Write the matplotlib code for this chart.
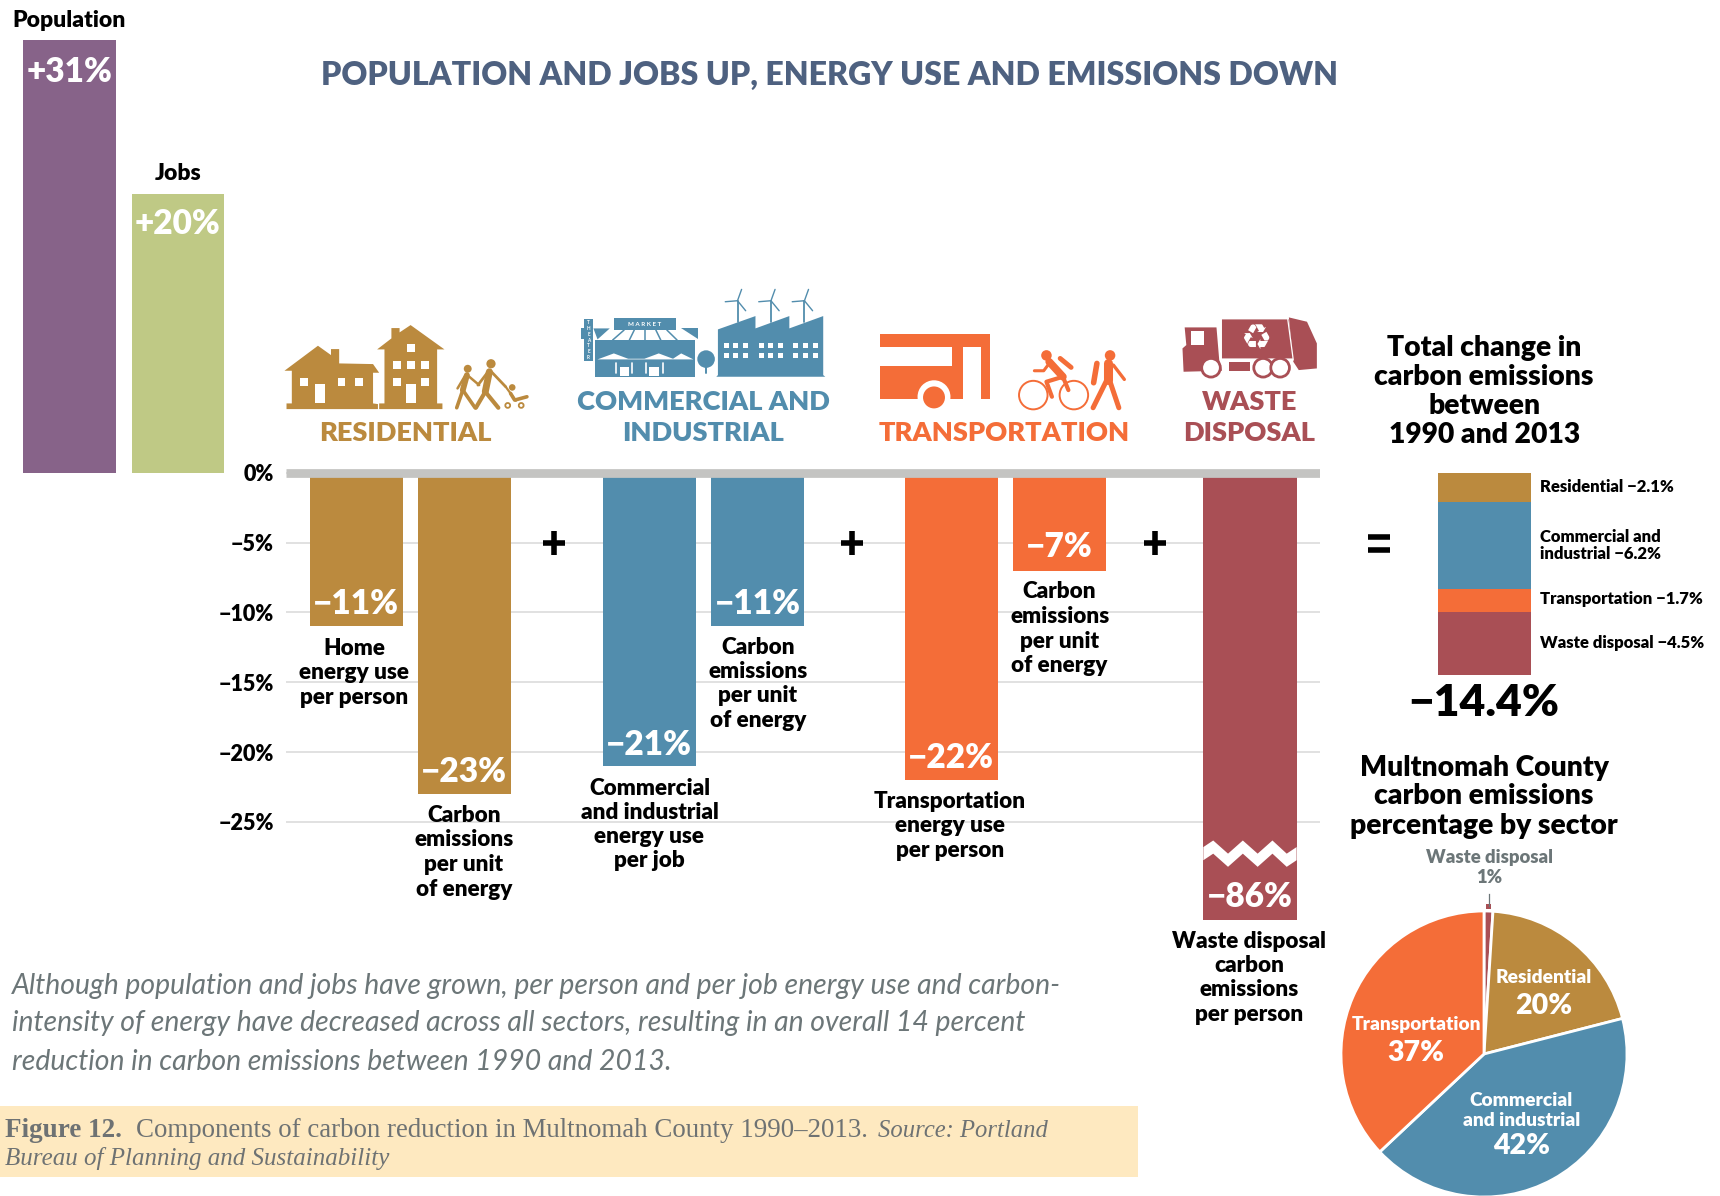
import matplotlib
matplotlib.use("Agg")
import matplotlib.pyplot as plt
from matplotlib.patches import Polygon, Rectangle, Circle

# ---------- data ----------
growth_labels = ["Population", "Jobs"]
growth_values = [31, 20]
growth_texts = ["+31%", "+20%"]

component_values = [-11, -23, -21, -11, -22, -7, -86]
component_texts = ["−11%", "−23%", "−21%", "−11%", "−22%", "−7%", "−86%"]
component_sectors = ["res", "res", "com", "com", "tra", "tra", "was"]
broken_axis_floor = -32

total_sectors = ["res", "com", "tra", "was"]
total_values = [-2.1, -6.2, -1.7, -4.5]
total_text = "−14.4%"

pie_values = [1, 20, 42, 37]
pie_sectors = ["was", "res", "com", "tra"]

y_ticks = [0, -5, -10, -15, -20, -25]
y_tick_labels = ["0%", "−5%", "−10%", "−15%", "−20%", "−25%"]

# ---------- style ----------
COL = {"res": "#bb8a3e", "com": "#528dad", "tra": "#f46d38", "was": "#a94f55"}
F = "Lato"
GR = "#6c7678"
W, H = 1568.0, 1090.0          # working coordinates
PX = 12.72                     # working px per percent
Y0 = 431.0
BW = 800

fig = plt.figure(figsize=(17.2, 11.96), dpi=100, facecolor="white")

# ---------- bar axes ----------
ax = fig.add_axes([261 / W, 0, (1203 - 261) / W, 1])
ax.set_xlim(261, 1203)
ax.set_ylim((Y0 - H) / PX, Y0 / PX)
for s in ax.spines.values():
    s.set_visible(False)
ax.set_xticks([])
ax.set_yticks(y_ticks)
ax.set_yticklabels(y_tick_labels, fontfamily=F, fontweight=BW, fontsize=15.5, color="black")
ax.tick_params(axis="y", length=0, pad=9)
ax.grid(axis="y", color="#d8d8d8", lw=1.1)
ax.set_axisbelow(True)
ax.patch.set_alpha(0)

for x, v, c in zip([21, 120], growth_values, ["#876389", "#bfc985"]):
    ax.bar(x, v, width=84.5, align="edge", color=c, clip_on=False, zorder=2)

comp_x = [282.5, 381, 549.5, 648, 825, 923.5, 1097]
for x, v, s in zip(comp_x, component_values, component_sectors):
    ax.bar(x, max(v, broken_axis_floor), width=85, align="edge", color=COL[s], zorder=2)
ax.axhline(0, color="#c4c4c2", lw=6.3, zorder=3, solid_capstyle="butt")

cum = 0
for v, s in zip(total_values, total_sectors):
    ax.bar(1311, v, width=85, bottom=cum, align="edge", color=COL[s], clip_on=False, zorder=2)
    cum += v

# ---------- overlay in working coordinates ----------
ov = fig.add_axes([0, 0, 1, 1], zorder=5)
ov.set_xlim(0, W)
ov.set_ylim(H, 0)
ov.axis("off")
ov.patch.set_alpha(0)


def T(x, y, s, size, color="black", weight=BW, ha="center", family=F, style="normal", **kw):
    base = y + 0.35 * size / 0.72 / 1.097
    return ov.text(x, base, s, fontsize=size, color=color, fontweight=weight, ha=ha, va="baseline",
                   family=family, style=style, **kw)


def L(x, ys, lines, size, **kw):
    for y, s in zip(ys, lines):
        T(x, y, s, size, **kw)


T(756, 67, "POPULATION AND JOBS UP, ENERGY USE AND EMISSIONS DOWN", 23.1, color="#4e6180")
T(63, 17, growth_labels[0], 16.5)
T(162, 157, growth_labels[1], 16.5)
T(63, 64, growth_texts[0], 24, color="white")
T(162, 203, growth_texts[1], 24, color="white")

HS = 19.6
T(370, 393, "RESIDENTIAL", HS, color=COL["res"])
L(641, [365, 393], ["COMMERCIAL AND", "INDUSTRIAL"], HS, color=COL["com"])
T(915, 393, "TRANSPORTATION", HS, color=COL["tra"])
L(1139, [365, 393], ["WASTE", "DISPOSAL"], HS, color=COL["was"])

val_pos = [(324, 549), (423, 702), (592, 677), (691, 549), (867, 689), (966, 497), (1139, 816)]
for (x, y), s in zip(val_pos, component_texts):
    T(x, y, s, 24, color="white")

LS = 16.2
L(323, [590, 612, 634], ["Home", "energy use", "per person"], LS)
cu = ["Carbon", "emissions", "per unit", "of energy"]
L(423, [742, 764, 787, 809], cu, LS)
L(592, [717, 739, 761, 783], ["Commercial", "and industrial", "energy use", "per job"], LS)
L(691, [589, 611, 633, 655], cu, LS)
L(866, [729, 751, 774], ["Transportation", "energy use", "per person"], LS)
L(966, [538, 561, 583, 605], cu, LS)
L(1139, [857, 879, 901, 923], ["Waste disposal", "carbon", "emissions", "per person"], LS)

for x in [505, 777, 1053]:
    ov.plot([x - 10, x + 10], [495, 495], color="black", lw=4, solid_capstyle="butt")
    ov.plot([x, x], [484, 506], color="black", lw=4, solid_capstyle="butt")
for y in [489, 501]:
    ov.plot([1247, 1267], [y, y], color="black", lw=4, solid_capstyle="butt")

L(1353, [315, 342, 368, 395], ["Total change in", "carbon emissions", "between", "1990 and 2013"], 20.3)
LG = 12
T(1404, 443, "Residential −2.1%", LG, ha="left")
T(1404, 489, "Commercial and", LG, ha="left")
T(1404, 504, "industrial −6.2%", LG, ha="left")
T(1404, 545, "Transportation −1.7%", LG, ha="left")
T(1404, 585, "Waste disposal −4.5%", LG, ha="left")
T(1353, 638, total_text, 32)
L(1353, [698, 724, 751], ["Multnomah County", "carbon emissions", "percentage by sector"], 20.3)
L(1358, [781, 799], ["Waste disposal", "1%"], 13.3, color=GR)

# zigzag break on the waste bar
zx = [1097, 1106, 1119.5, 1133, 1146.5, 1160, 1173, 1182]
zy = [778, 772, 784, 772, 784, 772, 784, 778]
ov.add_patch(Polygon([(a, b - 6) for a, b in zip(zx, zy)] + [(a, b + 6) for a, b in zip(zx[::-1], zy[::-1])],
                     fc="white", ec="none"))

# paragraph
PS = 20.4
for y, s in zip([897, 931, 966], [
    "Although population and jobs have grown, per person and per job energy use and carbon-",
    "intensity of energy have decreased across all sectors, resulting in an overall 14 percent",
    "reduction in carbon emissions between 1990 and 2013.",
]):
    T(11, y, s, PS, color=GR, weight="normal", ha="left", style="italic")

# caption band
ov.add_patch(Rectangle((0, 1008), 1037, 65, fc="#fee9c0", ec="none"))
SF = "Liberation Serif"
CC = "#6e7273"
T(5, 1028, "Figure 12.", 19.5, color=CC, ha="left", family=SF, )
T(124, 1028, "Components of carbon reduction in Multnomah County 1990–2013.", 19.4, color=CC, weight="normal", ha="left", family=SF)
T(800, 1028, "Source: Portland", 17.7, color=CC, weight="normal", ha="left", family=SF, style="italic")
T(5, 1054, "Bureau of Planning and Sustainability", 18, color=CC, weight="normal", ha="left", family=SF, style="italic")


# ---------- icons ----------
def z1(x, y):
    return ((220 + x / 2.45) / 1.097, (280 + y / 3) / 1.097)


def z2(x, y):
    return ((860 + x / 1.823) / 1.097, (280 + y / 3) / 1.097)


def poly(z, pts, c, zo=6):
    ov.add_patch(Polygon([z(*p) for p in pts], fc=c, ec="none", zorder=zo))


def rect(z, x0, y0, x1, y1, c, zo=6):
    poly(z, [(x0, y0), (x1, y0), (x1, y1), (x0, y1)], c, zo)


def line(z, pts, c, lw, zo=6):
    xy = [z(*p) for p in pts]
    ov.plot([p[0] for p in xy], [p[1] for p in xy], color=c, lw=lw, zorder=zo,
            solid_capstyle="round", solid_joinstyle="round")


def circ(z, x, y, r, fc, ec="none", lw=0, zo=6):
    ov.add_patch(Circle(z(x, y), r, fc=fc, ec=ec, lw=lw, zorder=zo))


c = COL["res"]
poly(z1, [(158, 272), (240, 197), (272, 225), (272, 207), (292, 207), (292, 250), (375, 252), (390, 278),
          (375, 278), (375, 370), (387, 372), (387, 387), (163, 387), (163, 370), (176, 370), (176, 272)], c)
for b in [(196, 295, 216, 318), (233, 312, 257, 368), (288, 295, 307, 318), (330, 295, 350, 318)]:
    rect(z1, *b, "white", 7)
poly(z1, [(385, 208), (420, 175), (420, 144), (440, 144), (440, 157), (467, 135), (550, 208), (532, 208),
          (532, 370), (545, 370), (545, 387), (390, 387), (390, 370), (403, 370), (403, 208)], c)
for b in [(458, 192, 478, 215), (424, 243, 443, 267), (458, 243, 478, 267), (492, 243, 512, 267),
          (424, 295, 443, 318), (492, 295, 512, 318), (456, 313, 480, 368)]:
    rect(z1, *b, "white", 7)
# family
circ(z1, 607, 266, 3.6, c)
line(z1, [(605, 285), (595, 330)], c, 4.2)
line(z1, [(595, 330), (580, 383)], c, 2.6)
line(z1, [(595, 330), (625, 383)], c, 2.6)
line(z1, [(606, 285), (635, 315)], c, 1.8)
line(z1, [(600, 288), (582, 325)], c, 1.8)
circ(z1, 664, 251, 4.2, c)
line(z1, [(660, 275), (650, 335)], c, 5)
line(z1, [(650, 335), (627, 383)], c, 3)
line(z1, [(650, 335), (682, 383)], c, 3)
line(z1, [(665, 275), (700, 320)], c, 2)
line(z1, [(655, 278), (632, 315)], c, 2)
circ(z1, 716, 322, 3, c)
line(z1, [(700, 320), (725, 362)], c, 1.6)
line(z1, [(712, 340), (722, 360), (752, 350)], c, 2.6)
circ(z1, 705, 376, 2.2, "white", c, 1.3)
circ(z1, 738, 376, 2.2, "white", c, 1.3)

c = COL["com"]
rect(z1, 966, 115, 1117, 150, c)
ov.text(*z1(1041, 133), "M A R K E T", fontsize=4.5, color="white", ha="center", va="center", family=F,
        fontweight="bold", zorder=7)
poly(z1, [(915, 145), (955, 145), (925, 178)], c)
poly(z1, [(1130, 145), (1172, 145), (1172, 178)], c)
for a, b in [(990, 962), (1015, 1003), (1041, 1041), (1068, 1080), (1095, 1120)]:
    line(z1, [(a, 150), (b, 180)], c, 1.1)
rect(z1, 920, 180, 1163, 290, c)
poly(z1, [(925, 238), (965, 220), (1000, 236), (1040, 236), (1075, 220), (1110, 236), (1130, 220), (1160, 238)], "white", 7)
for x in [970, 1010, 1045, 1085]:
    line(z1, [(x, 250), (x, 280)], "white", 1.2, 7)
rect(z1, 980, 262, 1003, 288, "white", 7)
rect(z1, 1052, 262, 1075, 288, "white", 7)
rect(z1, 893, 118, 913, 243, c)
rect(z1, 885, 145, 893, 178, c)
ov.text(*z1(903, 180), "T\nH\nE\nA\nT\nE\nR", fontsize=3.3, color="white", ha="center", va="center", family=F,
        fontweight="bold", linespacing=1.2, zorder=7)
circ(z1, 1191, 237, 8, c)
line(z1, [(1191, 250), (1191, 280)], c, 1.4)
poly(z1, [(1220, 148), (1312, 108), (1312, 145), (1395, 108), (1395, 145), (1478, 108), (1478, 285), (1483, 290),
          (1216, 290), (1220, 285)], c)
for y0 in [190, 220]:
    for x0 in [1235, 1258, 1282, 1320, 1343, 1367, 1405, 1428, 1452]:
        rect(z1, x0, y0, x0 + 12, y0 + 13, "white", 7)
for dx in [0, 82, 164]:
    line(z1, [(1268 + dx, 62), (1268 + dx, 125)], c, 1.3)
    line(z1, [(1268 + dx, 62), (1278 + dx, 28)], c, 1)
    line(z1, [(1268 + dx, 62), (1238 + dx, 65)], c, 1)
    line(z1, [(1268 + dx, 62), (1288 + dx, 92)], c, 1)

c = COL["tra"]
rect(z2, 37, 162, 237, 202, c)
rect(z2, 168, 202, 188, 357, c)
rect(z2, 220, 202, 237, 357, c)
rect(z2, 37, 258, 168, 357, c)
circ(z2, 135, 350, 15, "white", zo=7)
circ(z2, 135, 352, 10, c, zo=8)
# cyclist
circ(z2, 316, 345, 13, "white", c, 1.4)
circ(z2, 390, 345, 13, "white", c, 1.4)
circ(z2, 340, 226, 4.8, c, zo=7)
line(z2, [(345, 245), (370, 290)], c, 5.5, 7)
line(z2, [(370, 290), (340, 305), (350, 350)], c, 3, 7)
line(z2, [(370, 290), (380, 330)], c, 3, 7)
line(z2, [(345, 250), (335, 272), (318, 272)], c, 2.2, 7)
line(z2, [(365, 235), (385, 262)], c, 3.5, 7)
# walker
circ(z2, 456, 226, 4.8, c)
line(z2, [(452, 250), (452, 300)], c, 6.5)
line(z2, [(450, 300), (425, 383)], c, 3.6)
line(z2, [(455, 300), (472, 383)], c, 3.6)
line(z2, [(462, 255), (482, 298)], c, 2.4)
line(z2, [(432, 250), (426, 308)], c, 4)

c = COL["was"]
poly(z2, [(660, 118), (782, 118), (790, 235), (660, 235)], c)
poly(z2, [(782, 112), (815, 125), (833, 190), (833, 265), (800, 270), (790, 245)], c)
line(z2, [(780, 118), (790, 240)], "white", 0.9, 7)
poly(z2, [(592, 142), (650, 142), (655, 240), (660, 272), (590, 275), (588, 205), (595, 195)], c)
rect(z2, 603, 153, 627, 195, "white", 7)
rect(z2, 655, 240, 800, 272, "white", 5.5)
rect(z2, 672, 246, 712, 272, c, 7)
for x in [640, 735, 766]:
    circ(z2, x, 263, 8.5, "white", c, 2.0, 7)
    circ(z2, x, 263, 3, "white", zo=8)
ov.text(*z2(722, 178), "♻", fontsize=25, color="white", ha="center", va="center", family="DejaVu Sans",
        fontweight="bold", zorder=8)

# ---------- pie ----------
cx, cy, r = 1484.0, 1054.0, 143.0
pa = fig.add_axes([(cx - r) / 1720, (1196 - cy - r) / 1196, 2 * r / 1720, 2 * r / 1196], zorder=4)
pa.pie(pie_values, colors=[COL[s] for s in pie_sectors], startangle=90, counterclock=False, radius=1,
       wedgeprops=dict(edgecolor="white", linewidth=2))
pa.set_xlim(-1, 1)
pa.set_ylim(-1, 1)
for p in pa.patches:
    p.set_clip_on(False)
ov.plot([1357, 1357], [815, 826], color=GR, lw=0.9)
ov.add_patch(Rectangle((1354.5, 824), 5, 4, fc=COL["was"], ec="none"))

PL = 13.8
PN = 20.5
T(1407, 890, "Residential", PL, color="white")
T(1407, 915, "20%", PN, color="white")
T(1291, 933, "Transportation", PL, color="white")
T(1291, 958, "37%", PN, color="white")
L(1387, [1002, 1020], ["Commercial", "and industrial"], PL, color="white")
T(1387, 1043, "42%", PN, color="white")

fig.savefig("out.png", dpi=100, facecolor="white")
